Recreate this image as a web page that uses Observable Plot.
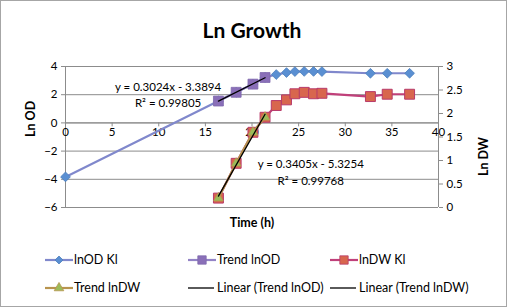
<!DOCTYPE html>
<html><head><meta charset="utf-8">
<script src="https://cdn.jsdelivr.net/npm/d3@7"></script>
<script src="https://cdn.jsdelivr.net/npm/@observablehq/plot@0.6"></script>
<style>body{margin:0;background:#fff}svg{display:block}</style>
</head><body><div id="chart"></div>
<script>
// time (h)
const times   = [0, 16.4, 18.3, 20.1, 21.4, 22.6, 23.7, 24.6, 25.6, 26.6, 27.5, 32.7, 34.5, 36.9];
// ln OD (left axis)
const lnOD    = [-3.83, 1.55, 2.17, 2.75, 3.22, 3.43, 3.57, 3.64, 3.65, 3.65, 3.64, 3.52, 3.52, 3.52];
// ln DW (right axis), no value at t=0
const lnDW    = [null, 0.20, 0.94, 1.60, 1.92, 2.17, 2.29, 2.42, 2.45, 2.42, 2.43, 2.36, 2.41, 2.41];
// indices of points used for trends
const trendIdx = [1, 2, 3, 4];
const xTicks = [0, 5, 10, 15, 20, 25, 30, 35, 40];
const leftTicks = [-6, -4, -2, 0, 2, 4];
const rightTicks = [0, 0.5, 1, 1.5, 2, 2.5, 3];
const eqOD = ["y = 0.3024x - 3.3894", "R² = 0.99805"];
const eqDW = ["y = 0.3405x - 5.3254", "R² = 0.99768"];
const legendItems = ["lnOD Kl", "Trend lnOD", "lnDW Kl", "Trend lnDW", "Linear (Trend lnOD)", "Linear (Trend lnDW)"];

const toL = v => -6 + v * 10 / 3;           // right-axis value -> left scale
const odData = times.map((t, i) => ({t, v: lnOD[i]}));
const dwData = times.map((t, i) => ({t, v: lnDW[i]})).filter(d => d.v != null).map(d => ({t: d.t, v: toL(d.v)}));
const trendOD = trendIdx.map(i => ({t: times[i], v: lnOD[i]}));
const trendDW = trendIdx.map(i => ({t: times[i], v: toL(lnDW[i])}));

const grid = "#8c8c8c";
const F = "Lato, 'Open Sans', sans-serif";

const chart = Plot.plot({
  width: 507, height: 308,
  marginLeft: 65, marginRight: 69, marginTop: 66, marginBottom: 101,
  x: {domain: [0, 40], axis: null},
  y: {domain: [-6, 4], axis: null},
  style: {fontFamily: F, fontSize: "11px", color: "#000", background: "#fff"},
  marks: [
    Plot.gridY(leftTicks, {stroke: grid, strokeOpacity: 1}),
    Plot.ruleX([0, 40], {stroke: grid}),
    Plot.ruleY([0], {stroke: grid}),
    Plot.ruleX(xTicks, {x: d => d, y1: 0, y2: -0.28, stroke: grid}),
    Plot.axisY(leftTicks, {anchor: "left", tickSize: 4, stroke: grid, tickPadding: 4, label: null, fontSize: 11.5}),
    Plot.axisY(rightTicks.map(toL), {anchor: "right", tickSize: 4, stroke: grid, tickPadding: 4, label: null, fontSize: 11.5,
      tickFormat: d => String(+((d + 6) * 0.3).toFixed(1))}),
    Plot.text(xTicks, {x: d => d, y: 0, dy: 9, text: d => String(d), fill: "#000", fontSize: 11.5}),
    // series
    Plot.line(odData, {x: "t", y: "v", stroke: "#8088cc", strokeWidth: 2.2}),
    Plot.dot(odData, {x: "t", y: "v", symbol: "diamond2", r: 4.4, fill: "#5a8fd2", stroke: "#4a7ebb", strokeWidth: 0.8}),
    Plot.line(trendOD, {x: "t", y: "v", stroke: "#9383c6", strokeWidth: 2.2}),
    Plot.dot(trendOD, {x: "t", y: "v", symbol: "square", r: 5.6, fill: "#8a6fb8", stroke: "#7f68ad", strokeWidth: 0.8}),
    Plot.line(dwData, {x: "t", y: "v", stroke: "#c0407a", strokeWidth: 2.2}),
    Plot.dot(dwData, {x: "t", y: "v", symbol: "square", r: 5.6, fill: "#d8664e", stroke: "#b83a6a", strokeWidth: 1}),
    Plot.line(trendDW, {x: "t", y: "v", stroke: "#b8944e", strokeWidth: 2.2}),
    Plot.dot(trendDW, {x: "t", y: "v", symbol: "triangle", r: 3.6, fill: "#9bbb59", stroke: "#b8944e", strokeWidth: 0.8}),
    Plot.linearRegressionY(trendOD, {x: "t", y: "v", stroke: "#000", strokeWidth: 1.3, ci: 0}),
    Plot.linearRegressionY(trendDW, {x: "t", y: "v", stroke: "#000", strokeWidth: 1.3, ci: 0}),
    // equations
    Plot.text(eqOD, {x: 11.0, y: (d, i) => [2.53, 1.36][i], text: d => d, fill: "#000", fontSize: 11.5}),
    Plot.text(eqDW, {x: 26.3, y: (d, i) => [-2.94, -4.13][i], text: d => d, fill: "#000", fontSize: 11.5}),
    // titles
    Plot.text(["Ln Growth"], {frameAnchor: "top", dy: -43, fontSize: 21, fontWeight: "bold", fill: "#000"}),
    Plot.text(["Ln OD"], {frameAnchor: "left", dx: -35, rotate: -90, fontSize: 12.5, fontWeight: "bold", fill: "#000"}),
    Plot.text(["Ln DW"], {frameAnchor: "right", dx: 45, rotate: -90, fontSize: 12.5, fontWeight: "bold", fill: "#000"}),
    Plot.text(["Time (h)"], {frameAnchor: "bottom", dy: 19, fontSize: 12.5, fontWeight: "bold", fill: "#000"})
  ]
});

const svg = d3.select(chart);
svg.append("rect").attr("x", 0.5).attr("y", 0.5).attr("width", 506).attr("height", 306)
  .attr("fill", "none").attr("stroke", "#a6a6a6");

// legend
const leg = [
  {x: 45, y: 260, line: "#8088cc", sym: d3.symbolDiamond2, size: 40, fill: "#5a8fd2", stroke: "#4a7ebb"},
  {x: 188, y: 260, line: "#9383c6", sym: d3.symbolSquare, size: 70, fill: "#8a6fb8", stroke: "#7f68ad"},
  {x: 330, y: 260, line: "#c0407a", sym: d3.symbolSquare, size: 70, fill: "#d8664e", stroke: "#b83a6a"},
  {x: 45, y: 288, line: "#b8944e", sym: d3.symbolTriangle, size: 40, fill: "#9bbb59", stroke: "#b8944e"},
  {x: 188, y: 288, line: "#000", sym: null},
  {x: 330, y: 288, line: "#000", sym: null}
];
const lg = svg.append("g").attr("text-anchor", "start");
leg.forEach((d, i) => {
  const g = lg.append("g").attr("transform", `translate(${d.x},${d.y})`);
  g.append("line").attr("x1", 0).attr("x2", d.sym ? 28 : 26).attr("stroke", d.line).attr("stroke-width", d.sym ? 2.2 : 1.3);
  if (d.sym) g.append("path").attr("d", d3.symbol(d.sym, d.size)()).attr("transform", "translate(14,0)")
    .attr("fill", d.fill).attr("stroke", d.stroke).attr("stroke-width", 0.8);
  g.append("text").attr("x", 29).attr("dy", "0.35em").attr("text-anchor", "start").attr("font-family", F).attr("font-size", 12.5)
    .attr("fill", "#000").text(legendItems[i]);
});

document.getElementById("chart").append(chart);
</script>
</body></html>
